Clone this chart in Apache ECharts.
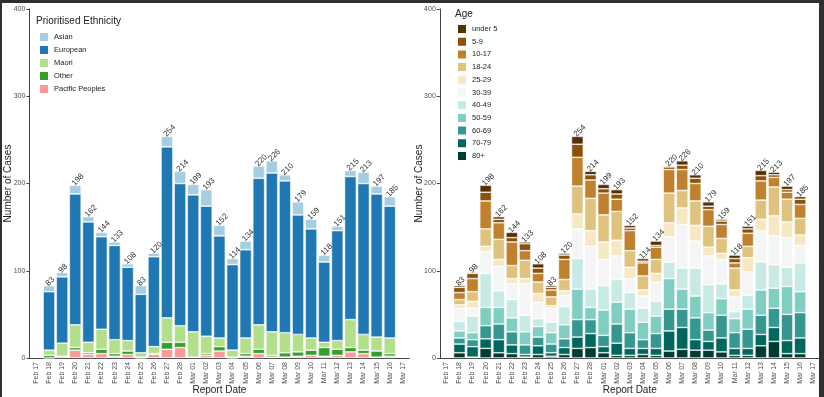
<!DOCTYPE html>
<html>
<head>
<meta charset="utf-8">
<script src="https://cdn.jsdelivr.net/npm/echarts@6/dist/echarts.min.js"></script>
<style>
html, body { margin: 0; padding: 0; background: #fff; }
#chart { width: 824px; height: 397px; }
#frame { position: absolute; left: 0; top: 0; width: 824px; height: 397px; box-sizing: border-box;
  border-top: 3px solid #2f2f2f; border-left: 2px solid #2f2f2f; border-right: 5px solid #2f2f2f; pointer-events: none; }
</style>
</head>
<body>
<div id="chart"></div>
<div id="frame"></div>
<script>
// report dates (Feb 17 and Mar 17 have no bars)
var dates = ['Feb 17', 'Feb 18', 'Feb 19', 'Feb 20', 'Feb 21', 'Feb 22', 'Feb 23', 'Feb 24', 'Feb 25', 'Feb 26',
    'Feb 27', 'Feb 28', 'Mar 01', 'Mar 02', 'Mar 03', 'Mar 04', 'Mar 05', 'Mar 06', 'Mar 07', 'Mar 08',
    'Mar 09', 'Mar 10', 'Mar 11', 'Mar 12', 'Mar 13', 'Mar 14', 'Mar 15', 'Mar 16', 'Mar 17'];

// cases by prioritised ethnicity, Feb 18 .. Mar 16
var asian    = [7, 5, 10, 6, 5, 4, 4, 10, 4, 12, 14, 12, 19, 12, 7, 10, 14, 14, 7, 15, 11, 8, 5, 7, 13, 9, 11];
var european = [67, 76, 150, 138, 106, 108, 84, 67, 103, 196, 163, 157, 149, 117, 98, 101, 168, 182, 174, 137, 125, 92, 126, 164, 173, 164, 151];
var maori    = [6, 15, 26, 12, 23, 16, 12, 5, 8, 28, 19, 29, 20, 10, 8, 18, 28, 27, 23, 20, 14, 6, 10, 32, 18, 16, 18];
var other    = [3, 0, 3, 2, 5, 3, 4, 1, 1, 8, 6, 0, 2, 5, 1, 3, 5, 2, 5, 5, 6, 10, 7, 5, 4, 7, 3];
var pacific  = [0, 2, 9, 4, 5, 2, 4, 0, 4, 10, 12, 1, 3, 8, 0, 2, 5, 1, 1, 2, 3, 2, 3, 7, 5, 1, 2];

// cases by age group, Feb 18 .. Mar 16
var under5 = [2, 1, 8, 3, 6, 2, 5, 2, 2, 9, 4, 5, 5, 3, 3, 5, 1, 5, 4, 5, 2, 4, 3, 6, 3, 4, 3];
var age5   = [6, 6, 10, 4, 5, 8, 6, 3, 5, 15, 6, 5, 6, 3, 2, 2, 3, 5, 6, 4, 4, 5, 5, 6, 3, 3, 6];
var age10  = [8, 15, 32, 19, 27, 11, 10, 8, 23, 33, 21, 25, 14, 23, 15, 14, 27, 24, 20, 19, 16, 6, 15, 22, 11, 8, 16];
var age18  = [6, 11, 20, 23, 15, 21, 13, 10, 13, 32, 37, 31, 33, 19, 16, 16, 34, 20, 28, 24, 17, 25, 13, 22, 33, 26, 19];
var age25  = [4, 8, 6, 8, 6, 6, 10, 3, 5, 17, 18, 20, 18, 13, 7, 10, 16, 19, 18, 10, 7, 8, 16, 13, 23, 18, 12];
var age30  = [15, 9, 25, 28, 18, 36, 19, 16, 13, 34, 49, 30, 27, 16, 14, 22, 29, 50, 31, 33, 28, 17, 27, 36, 33, 34, 20];
var age40  = [11, 19, 39, 19, 21, 19, 9, 12, 21, 35, 21, 28, 26, 19, 16, 17, 19, 24, 32, 32, 17, 8, 16, 32, 27, 22, 33];
var age50  = [8, 8, 21, 19, 16, 15, 12, 13, 16, 35, 14, 29, 25, 27, 20, 20, 35, 23, 25, 20, 19, 16, 23, 29, 23, 32, 24];
var age60  = [7, 8, 15, 18, 15, 11, 10, 10, 10, 20, 16, 13, 22, 18, 10, 17, 25, 21, 25, 13, 26, 18, 22, 22, 22, 30, 29];
var age70  = [10, 12, 11, 15, 10, 3, 10, 4, 8, 13, 16, 7, 14, 8, 7, 8, 23, 25, 12, 10, 16, 8, 8, 13, 16, 15, 18];
var age80  = [6, 1, 11, 6, 5, 1, 4, 2, 4, 11, 12, 6, 3, 3, 4, 3, 8, 10, 9, 9, 7, 3, 3, 14, 19, 5, 5];

var ethnicNames = ['Asian', 'European', 'Maori', 'Other', 'Pacific Peoples'];
var ethnicColors = ['#a6cee3', '#1f78b4', '#b2df8a', '#33a02c', '#fb9a99'];
var ethnicValues = [asian, european, maori, other, pacific];

var ageNames = ['under 5', '5-9', '10-17', '18-24', '25-29', '30-39', '40-49', '50-59', '60-69', '70-79', '80+'];
var ageColors = ['#543005', '#8c510a', '#bf812d', '#dfc27d', '#f6e8c3', '#f5f5f5', '#c7eae5', '#80cdc1', '#35978f', '#01665e', '#003c30'];
var ageValues = [under5, age5, age10, age18, age25, age30, age40, age50, age60, age70, age80];

var font = "'Liberation Sans', Arial, sans-serif";

// add the empty first and last report dates
function pad(arr) {
    return ['-'].concat(arr, ['-']);
}

function totalsOf(groups) {
    return groups[0].map(function(v, i) {
        return groups.reduce(function(s, g) { return s + g[i]; }, 0);
    });
}

// legend order is top of bar first, so stack in reverse
function buildSeries(names, colors, values, idx) {
    var totals = totalsOf(values);
    var out = [];
    for (var k = names.length - 1; k >= 0; k--) {
        var s = {
            name: names[k],
            type: 'bar',
            stack: 'total' + idx,
            xAxisIndex: idx,
            yAxisIndex: idx,
            barCategoryGap: '10%',
            data: pad(values[k]),
            itemStyle: { color: colors[k], borderColor: '#fff', borderWidth: 0.6 },
            emphasis: { disabled: true }
        };
        if (k === 0) {
            s.label = {
                show: true,
                position: 'top',
                rotate: 45,
                align: 'left',
                verticalAlign: 'middle',
                distance: 3,
                offset: [-3, 0],
                fontSize: 8,
                fontFamily: font,
                color: '#333',
                formatter: function(p) { return totals[p.dataIndex - 1]; }
            };
        }
        out.push(s);
    }
    return out;
}

function xAxis(idx) {
    return {
        type: 'category',
        gridIndex: idx,
        data: dates,
        name: 'Report Date',
        nameLocation: 'middle',
        nameGap: 27,
        nameMoveOverlap: false,
        nameTextStyle: { fontSize: 10, color: '#222', fontFamily: font },
        axisLine: { lineStyle: { color: '#444' } },
        axisTick: { alignWithLabel: true, length: 3, lineStyle: { color: '#444' } },
        axisLabel: { rotate: 90, interval: 0, fontSize: 7, margin: 4, color: '#4d4d4d', fontFamily: font }
    };
}

function yAxis(idx) {
    return {
        type: 'value',
        gridIndex: idx,
        min: 0,
        max: 400,
        interval: 100,
        name: 'Number of Cases',
        nameLocation: 'middle',
        nameGap: 16,
        nameMoveOverlap: false,
        nameTextStyle: { fontSize: 10, color: '#222', fontFamily: font },
        axisLine: { show: true, lineStyle: { color: '#444' } },
        axisTick: { show: true, length: 3, lineStyle: { color: '#444' } },
        axisLabel: { fontSize: 7, margin: 4, color: '#4d4d4d', fontFamily: font },
        splitLine: { show: false }
    };
}

var myChart = echarts.init(document.getElementById('chart'));

var option = {
    animation: false,
    backgroundColor: '#fff',
    title: [
        { text: 'Prioritised Ethnicity', left: 36, top: 16, padding: 0,
          textStyle: { fontSize: 10, fontWeight: 'normal', color: '#222', fontFamily: font } },
        { text: 'Age', left: 455, top: 9, padding: 0,
          textStyle: { fontSize: 10, fontWeight: 'normal', color: '#222', fontFamily: font } }
    ],
    legend: [
        { data: ethnicNames, orient: 'vertical', left: 38, top: 31, padding: 0,
          itemWidth: 10, itemHeight: 10, itemGap: 1, icon: 'rect',
          textStyle: { fontSize: 7.5, color: '#222', fontFamily: font } },
        { data: ageNames, orient: 'vertical', left: 456, top: 23, padding: 0,
          itemWidth: 10, itemHeight: 10, itemGap: 0.7, icon: 'rect',
          textStyle: { fontSize: 7.5, color: '#222', fontFamily: font } }
    ],
    grid: [
        { left: 29.4, top: 9, width: 380, height: 349, outerBoundsMode: 'none' },
        { left: 439.8, top: 9, width: 380, height: 349, outerBoundsMode: 'none' }
    ],
    xAxis: [xAxis(0), xAxis(1)],
    yAxis: [yAxis(0), yAxis(1)],
    series: buildSeries(ethnicNames, ethnicColors, ethnicValues, 0)
        .concat(buildSeries(ageNames, ageColors, ageValues, 1))
};

myChart.setOption(option);
</script>
</body>
</html>
